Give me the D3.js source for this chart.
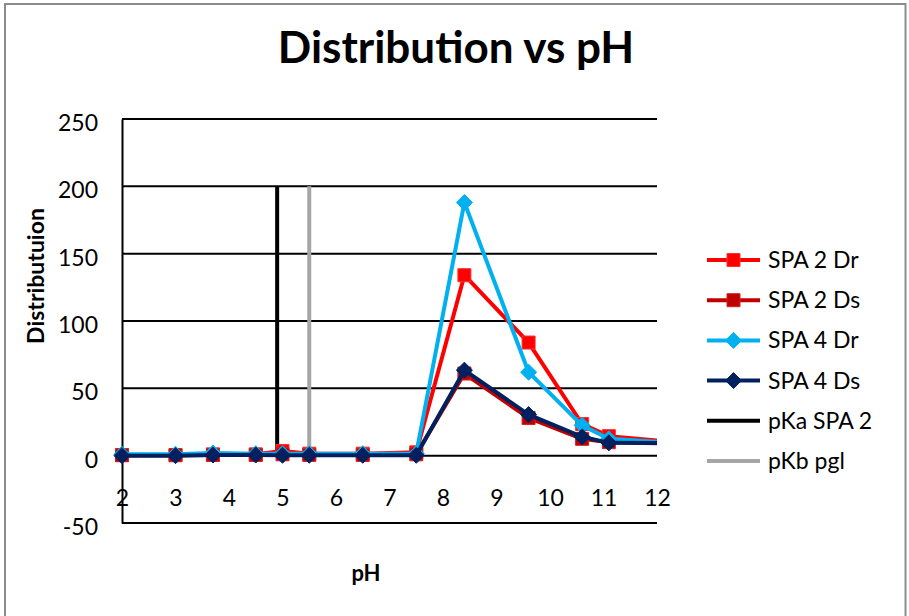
<!DOCTYPE html>
<html>
<head>
<meta charset="utf-8">
<script src="https://cdn.jsdelivr.net/npm/d3@7"></script>
<style>
  body { margin: 0; background: #fff; }
  svg { display: block; }
  text { font-family: Lato, "Open Sans", "Liberation Sans", sans-serif; fill: #000; }
</style>
</head>
<body>
<svg id="chart" width="909" height="616"></svg>
<script>
// pH sampling points (last one lies past the axis maximum and is clipped)
const pH = [2, 3, 3.7, 4.5, 5, 5.5, 6.5, 7.5, 8.4, 9.6, 10.6, 11.1, 13];

const spa2Dr = [0.5, 0.5, 1, 1, 3.5, 1.5, 1.5, 2.5, 134, 84, 23.5, 14.5, 7.5];
const spa2Ds = [0.3, 0.3, 0.5, 0.5, 1, 0.5, 0.5, 1, 61, 28, 12.5, 10, 8.5];
const spa4Dr = [1, 1, 2, 1.5, 1.5, 1.5, 1.5, 1.5, 188, 62, 22.5, 12.5, 8];
const spa4Ds = [0, 0, 0.5, 0.5, 0.3, 0.3, 0.3, 0.3, 63.5, 30.5, 14, 9.5, 9.4];

// reference lines: pH position and vertical extent
const pKaSPA2 = { x: 4.9, y0: 0, y1: 200 };
const pKbPgl = { x: 5.5, y0: 0, y1: 200 };

const xTicks = [2, 3, 4, 5, 6, 7, 8, 9, 10, 11, 12];
const yTicks = [-50, 0, 50, 100, 150, 200, 250];

const series = [
  { name: "SPA 2 Dr", values: spa2Dr, color: "#FF0000", marker: "square", fill: "#FF0000", stroke: "#FF3030" },
  { name: "SPA 2 Ds", values: spa2Ds, color: "#C00000", marker: "square", fill: "#C00000", stroke: "#D02020" },
  { name: "SPA 4 Dr", values: spa4Dr, color: "#00B0F0", marker: "diamond", fill: "#00B0F0", stroke: "#00B0F0" },
  { name: "SPA 4 Ds", values: spa4Ds, color: "#002060", marker: "diamond", fill: "#002060", stroke: "#002060" }
];
const refLines = [
  { name: "pKa SPA 2", line: pKaSPA2, color: "#000000" },
  { name: "pKb pgl", line: pKbPgl, color: "#A6A6A6" }
];

const FONT = "Lato, 'Open Sans', sans-serif";
const svg = d3.select("#chart");

// chart frame
svg.append("rect")
  .attr("x", 5).attr("y", 4).attr("width", 900.5).attr("height", 620)
  .attr("fill", "#fff").attr("stroke", "#8c8c8c").attr("stroke-width", 2);

const plot = { left: 122, right: 657, top: 119, bottom: 523 };
const x = d3.scaleLinear().domain([2, 12]).range([plot.left, plot.right]);
const y = d3.scaleLinear().domain([-50, 250]).range([plot.bottom, plot.top]);

// title
svg.append("text")
  .attr("x", 456).attr("y", 63)
  .attr("text-anchor", "middle")
  .attr("font-size", 44).attr("font-weight", "bold")
  .text("Distribution vs pH");

// horizontal gridlines
svg.append("g")
  .selectAll("line")
  .data(yTicks.filter(d => d !== 0))
  .join("line")
  .attr("x1", plot.left).attr("x2", plot.right)
  .attr("y1", d => y(d)).attr("y2", d => y(d))
  .attr("stroke", "#000").attr("stroke-width", 2);

// y axis
const yAxis = d3.axisLeft(y).tickValues(yTicks).tickSize(0).tickPadding(24).tickFormat(d => String(d));
const gy = svg.append("g").attr("transform", `translate(${plot.left},0)`).call(yAxis);
gy.select(".domain").attr("stroke", "#000").attr("stroke-width", 2);
gy.selectAll("text").attr("font-size", 23).attr("font-family", FONT).attr("fill", "#000")
  .attr("transform", "translate(0,4)");

// x axis crossing at zero, labels set below it
svg.append("line")
  .attr("x1", plot.left).attr("x2", plot.right)
  .attr("y1", y(0)).attr("y2", y(0))
  .attr("stroke", "#000").attr("stroke-width", 2);
const xAxis = d3.axisBottom(x).tickValues(xTicks).tickSize(0).tickPadding(0).tickFormat(d => String(d));
const gx = svg.append("g").attr("transform", `translate(0,${y(0) + 34})`).call(xAxis);
gx.select(".domain").remove();
gx.selectAll("text").attr("font-size", 23).attr("font-family", FONT).attr("fill", "#000");

// axis titles
svg.append("text")
  .attr("transform", "translate(44,276) rotate(-90)")
  .attr("text-anchor", "middle")
  .attr("font-size", 23).attr("font-weight", "bold")
  .text("Distributuion");
svg.append("text")
  .attr("x", 366).attr("y", 581)
  .attr("text-anchor", "middle")
  .attr("font-size", 22).attr("font-weight", "bold")
  .text("pH");

// clip for the plotted series
svg.append("clipPath").attr("id", "plotClip")
  .append("rect")
  .attr("x", plot.left).attr("y", plot.top)
  .attr("width", plot.right - plot.left).attr("height", plot.bottom - plot.top);

// vertical reference lines
svg.append("g").selectAll("line")
  .data(refLines)
  .join("line")
  .attr("x1", d => x(d.line.x)).attr("x2", d => x(d.line.x))
  .attr("y1", d => y(d.line.y0)).attr("y2", d => y(d.line.y1))
  .attr("stroke", d => d.color).attr("stroke-width", 4);

const lineGen = d3.line().x(d => x(d[0])).y(d => y(d[1]));
const squarePath = "M-6.5,-6.5H6.5V6.5H-6.5Z";
const diamondPath = "M0,-8L8,0L0,8L-8,0Z";

function drawMarker(sel, s) {
  sel.attr("d", s.marker === "square" ? squarePath : diamondPath)
    .attr("fill", s.fill).attr("stroke", s.stroke).attr("stroke-width", 1);
}

const gSeries = svg.append("g");
series.forEach(s => {
  const pts = pH.map((p, i) => [p, s.values[i]]);
  const g = gSeries.append("g");
  g.append("path")
    .datum(pts)
    .attr("clip-path", "url(#plotClip)")
    .attr("fill", "none")
    .attr("stroke", s.color)
    .attr("stroke-width", 4)
    .attr("stroke-linejoin", "round")
    .attr("d", lineGen);
  g.selectAll("path.mk")
    .data(pts.filter(d => d[0] <= 12))
    .join("path")
    .attr("class", "mk")
    .attr("transform", d => `translate(${x(d[0])},${y(d[1])})`)
    .call(sel => drawMarker(sel, s));
});

// legend
const legendItems = series.map(s => ({ name: s.name, color: s.color, s }))
  .concat(refLines.map(r => ({ name: r.name, color: r.color, s: null })));
const lg = svg.append("g");
legendItems.forEach((d, i) => {
  const cy = 260 + i * 40.2;
  const row = lg.append("g").attr("transform", `translate(0,${cy})`);
  row.append("line")
    .attr("x1", 707).attr("x2", 760).attr("y1", 0).attr("y2", 0)
    .attr("stroke", d.color).attr("stroke-width", 4);
  if (d.s) {
    row.append("path")
      .attr("transform", "translate(733.5,0)")
      .call(sel => drawMarker(sel, d.s));
  }
  row.append("text")
    .attr("x", 768).attr("y", 8)
    .attr("font-size", 23)
    .text(d.name);
});
</script>
</body>
</html>
